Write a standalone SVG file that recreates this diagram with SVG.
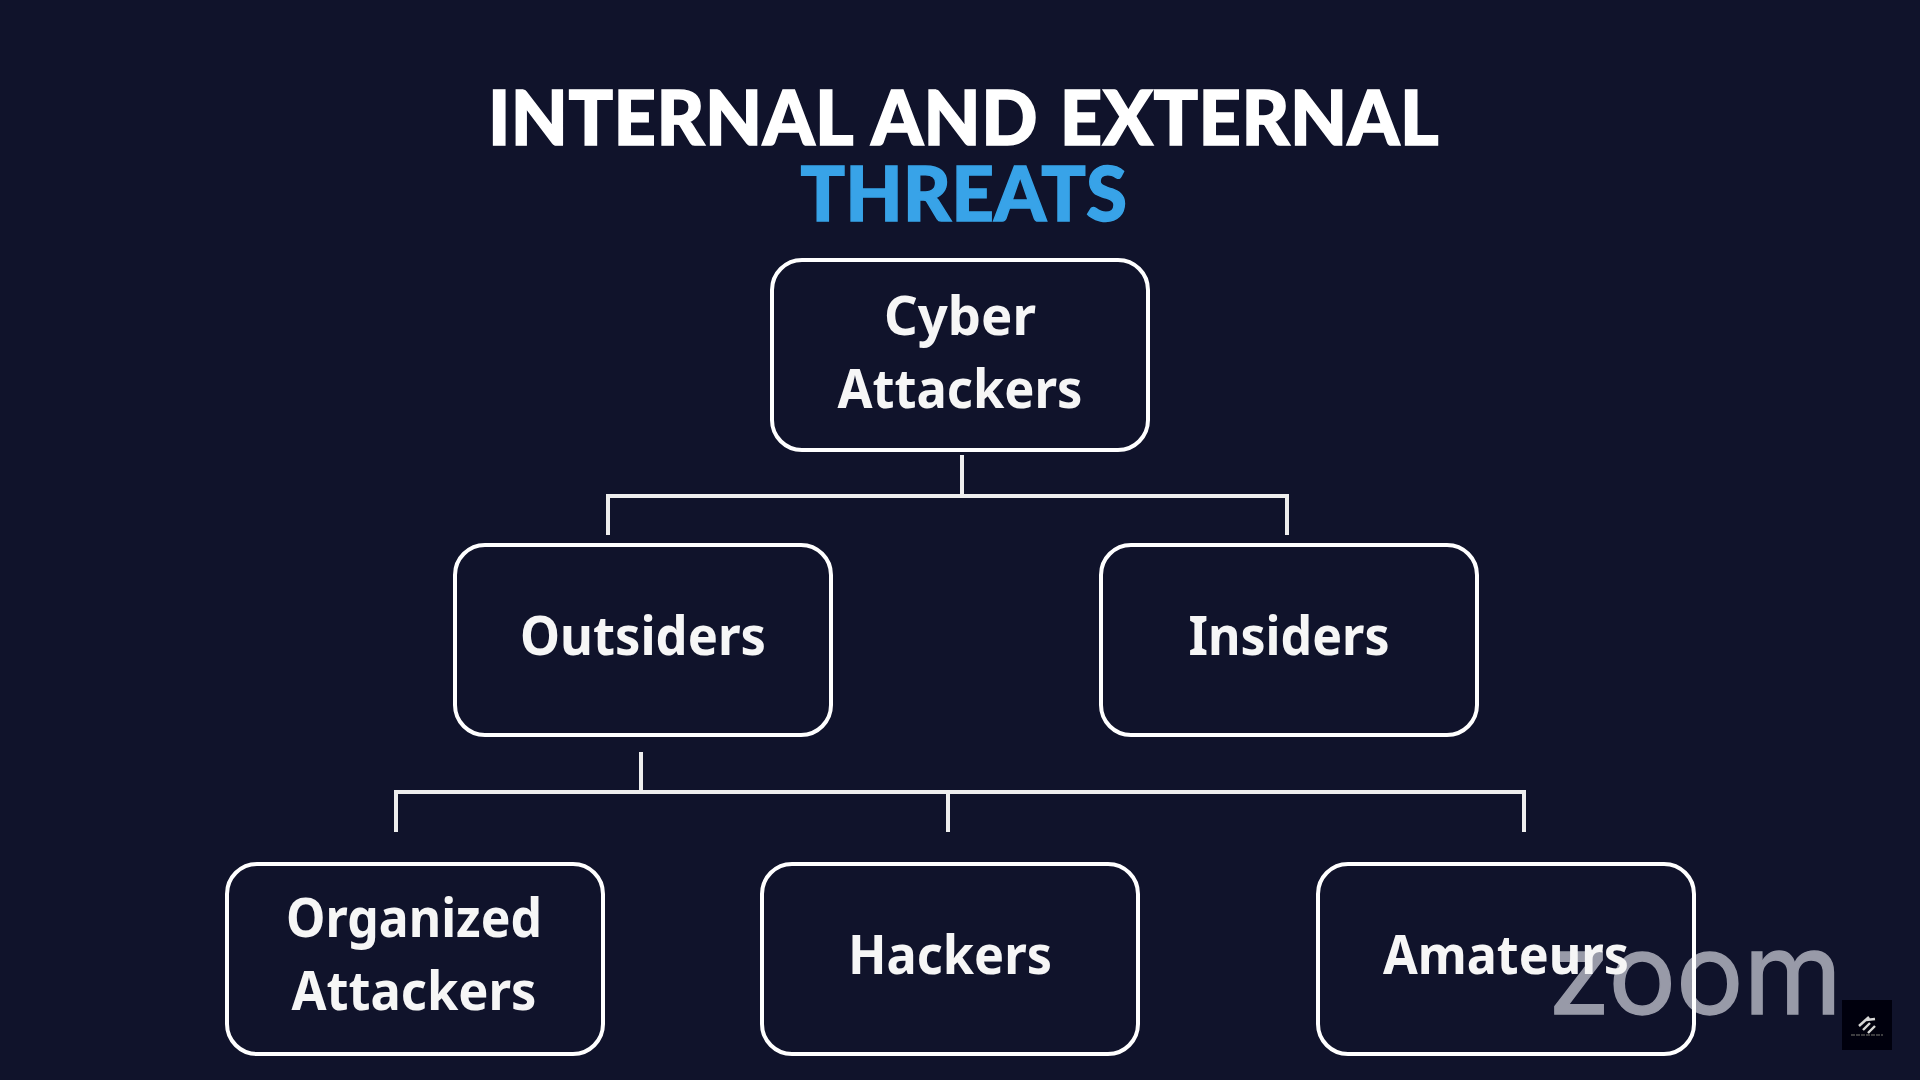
<svg xmlns="http://www.w3.org/2000/svg" width="1920" height="1080" viewBox="0 0 1920 1080">
<defs><filter id="soft" x="-5%" y="-5%" width="110%" height="110%"><feGaussianBlur stdDeviation="0.7"/></filter></defs>
<style>
.box{fill:none;stroke:#fff;stroke-width:4}
.lbl{font-family:"Noto Sans","Open Sans",sans-serif;font-weight:700;font-size:54px;fill:#f6f6f6;text-anchor:middle}
.ttl{font-family:Lato,"Open Sans",sans-serif;font-weight:900;font-size:76px;text-anchor:middle;stroke-width:1.5;word-spacing:4px;letter-spacing:.5px}
.ln{fill:none;stroke:#eee;stroke-width:4}
</style>
<rect width="1920" height="1080" fill="#10132b"/>
<g filter="url(#soft)">
<g id="zoom-watermark"><text x="1548" y="1014" font-family="Inter,'Liberation Sans',sans-serif" font-size="113" font-weight="400" fill="#989aa8" stroke="#989aa8" stroke-width="1.5" textLength="294" lengthAdjust="spacingAndGlyphs">zoom</text></g>
<g id="title">
<text class="ttl" x="963.5" y="145" fill="#fff" stroke="#fff" textLength="951" lengthAdjust="spacingAndGlyphs">INTERNAL AND EXTERNAL</text>
<text class="ttl" x="964" y="221" fill="#37a3e8" stroke="#37a3e8" textLength="327" lengthAdjust="spacingAndGlyphs">THREATS</text>
</g>
<g id="connectors">
<path class="ln" d="M962 455V494M608 535V496H1287V535"/>
<path class="ln" d="M641 752V790M396 832V792H1524V832M948 792V832"/>
</g>
<g id="cyber-attackers"><rect class="box" x="772" y="260" width="376" height="190" rx="30"/>
<text class="lbl" x="960" y="335" textLength="152" lengthAdjust="spacingAndGlyphs">Cyber</text><text class="lbl" x="960" y="408" textLength="245" lengthAdjust="spacingAndGlyphs">Attackers</text></g>
<g id="outsiders"><rect class="box" x="455" y="545" width="376" height="190" rx="30"/>
<text class="lbl" x="643" y="655" textLength="246" lengthAdjust="spacingAndGlyphs">Outsiders</text></g>
<g id="insiders"><rect class="box" x="1101" y="545" width="376" height="190" rx="30"/>
<text class="lbl" x="1289" y="655" textLength="201" lengthAdjust="spacingAndGlyphs">Insiders</text></g>
<g id="organized-attackers"><rect class="box" x="227" y="864" width="376" height="190" rx="30"/>
<text class="lbl" x="414" y="937" textLength="256" lengthAdjust="spacingAndGlyphs">Organized</text><text class="lbl" x="414" y="1010" textLength="245" lengthAdjust="spacingAndGlyphs">Attackers</text></g>
<g id="hackers"><rect class="box" x="762" y="864" width="376" height="190" rx="30"/>
<text class="lbl" x="950" y="974" textLength="204" lengthAdjust="spacingAndGlyphs">Hackers</text></g>
<g id="amateurs"><rect class="box" x="1318" y="864" width="376" height="190" rx="30"/>
<text class="lbl" x="1506" y="974" textLength="246" lengthAdjust="spacingAndGlyphs">Amateurs</text></g>
<g id="badge"><rect x="1842" y="1000" width="50" height="50" fill="#05050d"/>
<path d="M1859 1026l10-9M1863 1030l7-7M1868 1033l7-7M1866 1020l9-1" fill="none" stroke="#d8d8d8" stroke-width="2.4"/>
<path d="M1851 1035H1883" stroke="#777" stroke-width="1" stroke-dasharray="4 1"/></g>
</g>
</svg>
